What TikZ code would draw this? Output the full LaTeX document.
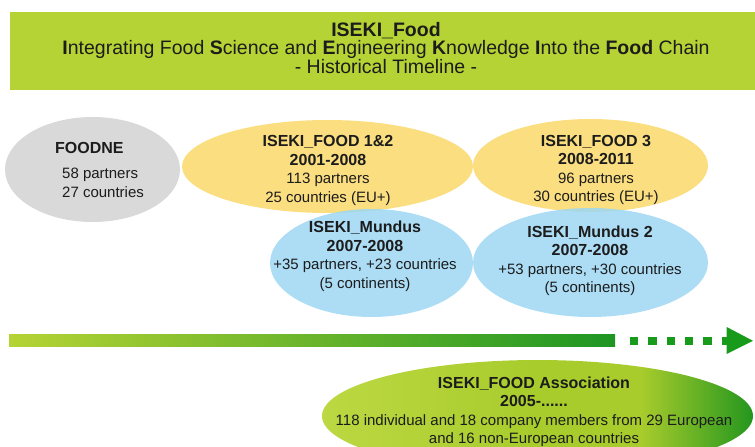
\documentclass[tikz,border=0pt]{standalone}
\usepackage{fontspec}
\setmainfont{Liberation Sans}
\usetikzlibrary{shapes.geometric,positioning}

\definecolor{ink}{RGB}{28,28,28}
\definecolor{bannergreen}{RGB}{181,211,52}
\definecolor{greyblob}{RGB}{217,217,217}
\definecolor{yellowblob}{RGB}{250,222,128}
\definecolor{blueblob}{RGB}{157,215,243}
\definecolor{barlight}{RGB}{181,211,52}
\definecolor{bardark}{RGB}{30,150,35}
\definecolor{arrowgreen}{RGB}{24,155,26}
\definecolor{assocL}{RGB}{188,216,66}
\definecolor{assocM}{RGB}{168,204,44}
\definecolor{assocR}{RGB}{36,150,30}

% association: light on the left, turns dark green near the right end
\pgfdeclarehorizontalshading{assocfill}{100bp}{color(0bp)=(assocL); color(25bp)=(assocL);
  color(50bp)=(assocM); color(62bp)=(assocM); color(75bp)=(assocR); color(100bp)=(assocR)}

\newcommand{\blobtitle}[1]{{\fontsize{16}{18.5}\selectfont\bfseries #1}}

\begin{document}
\begin{tikzpicture}[x=1pt,y=-1pt,
  blob/.style={ellipse, inner sep=0pt},
  lbl/.style={align=center, inner sep=0pt, text=ink, font=\fontsize{15}{18.5}\selectfont},
  ]
\useasboundingbox (0,0) rectangle (755,447);
\clip (0,0) rectangle (755,447);

% title banner
\node[fill=bannergreen, anchor=north west, inner sep=0pt, minimum width=760pt, minimum height=78pt] (banner) at (10,12) {};
\node[align=center, inner sep=0pt, text=ink, font=\fontsize{19.5}{18}\selectfont] (bannertxt) at (386,48)
  {\textbf{ISEKI\_Food}\\
   \textbf{I}ntegrating Food \textbf{S}cience and \textbf{E}ngineering\ \textbf{K}nowledge\ \textbf{I}nto the \textbf{Food} Chain\\
   - Historical Timeline -};

% projects
\node[blob, fill=yellowblob, minimum width=291pt, minimum height=93pt] (isekionetwo) at (327.5,166.5) {};
\node[blob, fill=yellowblob, minimum width=235pt, minimum height=93pt] (isekithree) at (590.5,165.5) {};
\node[blob, fill=blueblob, fill opacity=0.85, minimum width=203pt, minimum height=108pt] (mundus) at (371.5,263) {};
\node[blob, fill=blueblob, fill opacity=0.85, minimum width=235pt, minimum height=109pt] (mundustwo) at (590.5,262.5) {};
\node[blob, fill=greyblob, minimum width=175pt, minimum height=105pt] (foodne) at (92.5,169.5) {};

\node[lbl, anchor=west] (foodnehead) at (55,148) {\blobtitle{FOODNE}};
\node[lbl, anchor=north west, align=left] (foodnetxt) at (62,168) {58 partners\\27 countries};

\node[lbl] (isekionetwotxt) at (328,170.5)
  {\blobtitle{ISEKI\_FOOD 1\&2}\\\blobtitle{2001-2008}\\113 partners\\25 countries (EU+)};
\node[lbl] (isekithreetxt) at (596,170)
  {\blobtitle{ISEKI\_FOOD 3}\\\blobtitle{2008-2011}\\96 partners\\30 countries (EU+)};
\node[lbl] (mundustxt) at (365,256.5)
  {\blobtitle{ISEKI\_Mundus}\\\blobtitle{2007-2008}\\+35 partners, +23 countries\\(5 continents)};
\node[lbl] (mundustwotxt) at (590,261)
  {\blobtitle{ISEKI\_Mundus 2}\\\blobtitle{2007-2008}\\+53 partners, +30 countries\\(5 continents)};

% time line
\coordinate (barstart) at (9,334);
\coordinate (barend) at (615,346);
\shade[left color=barlight, right color=bardark] (barstart) rectangle (barend);
\foreach \k in {0,...,4}
  \fill[arrowgreen] (630+18.3*\k,336.7) rectangle ++(8.3,8.3);
\fill[arrowgreen] (721.7,336.7) rectangle (727.5,345);
\fill[arrowgreen] (726.7,327) -- (753,340.8) -- (726.7,354) -- cycle;

% association
\node[blob, shading=assocfill, minimum width=431pt, minimum height=112pt] (assoc) at (537.5,416) {};
\node[lbl] (assoctxt) at (534,412)
  {\blobtitle{ISEKI\_FOOD Association}\\\blobtitle{2005-......}\\
   118 individual and 18 company members from 29 European\\and 16 non-European countries};
\end{tikzpicture}
\end{document}
